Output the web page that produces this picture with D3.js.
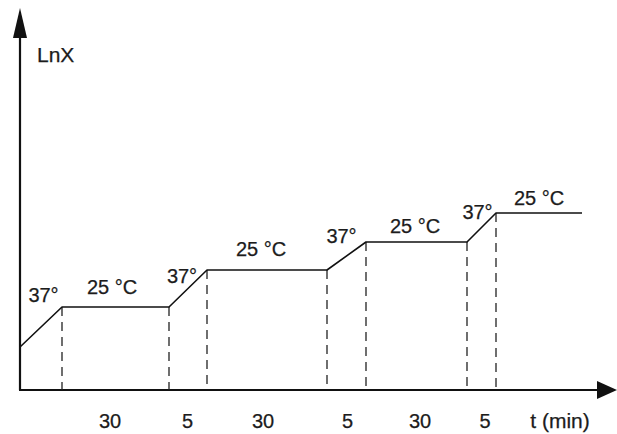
<!DOCTYPE html>
<html>
<head>
<meta charset="utf-8">
<script src="https://cdn.jsdelivr.net/npm/d3@7"></script>
<style>
  html, body { margin: 0; padding: 0; background: #fff; }
  svg { display: block; }
  text { font-family: "Liberation Sans", Arial, Helvetica, sans-serif; font-size: 20px; fill: #1c1c1c; stroke: #1c1c1c; stroke-width: 0.25; }
</style>
</head>
<body>
<svg id="chart" width="617" height="434"></svg>
<script>
// Schematic time (arbitrary units) and lnX values at curve breakpoints
const tPoints   = [0, 4.2, 14.9, 18.7, 30.7, 34.6, 44.7, 47.6, 56.2];
const lnXPoints = [4.3, 8.3, 8.3, 12.0, 12.0, 14.8, 14.8, 17.7, 17.7];

// Temperature annotations (position in data units)
const tempLabels = ["37°", "25 °C", "37°", "25 °C", "37°", "25 °C", "37°", "25 °C"];
const tempLabelT = [2.35, 9.2, 16.2, 24.1, 32.15, 39.5, 45.75, 51.9];
const tempLabelY = [8.8, 9.6, 10.7, 13.4, 14.7, 15.7, 17.1, 18.5];

// Duration labels under the time axis
const durLabels = ["30", "5", "30", "5", "30", "5", "t (min)"];
const durLabelT = [9.0, 16.75, 24.3, 32.75, 40.0, 46.5, 54.0];
const durLabelY = -3.8;

const axisLabel = "LnX";
const axisLabelT = 1.7, axisLabelY = 32.8;

const tMax = 59.7, yMax = 38.2;

const svg = d3.select("#chart");
const x = d3.scaleLinear().domain([0, 60]).range([20, 620]);
const y = d3.scaleLinear().domain([0, 38]).range([390, 10]);

// Axes
svg.append("line")
  .attr("x1", x(0)).attr("y1", y(0))
  .attr("x2", x(0)).attr("y2", y(yMax) + 20)
  .attr("stroke", "#111").attr("stroke-width", 2.2);
svg.append("line")
  .attr("x1", x(0) - 1).attr("y1", y(0))
  .attr("x2", x(tMax) - 12).attr("y2", y(0))
  .attr("stroke", "#111").attr("stroke-width", 2.2);

// Arrow heads
const yTip = y(yMax), xTip = x(tMax);
svg.append("path")
  .attr("d", `M${x(0)},${yTip} L${x(0) - 7},${yTip + 30} L${x(0) + 7},${yTip + 30} Z`)
  .attr("fill", "#111");
svg.append("path")
  .attr("d", `M${xTip},${y(0)} L${xTip - 20},${y(0) - 9} L${xTip - 20},${y(0) + 9} Z`)
  .attr("fill", "#111");

// Dashed vertical guides
const guideIdx = d3.range(1, tPoints.length - 1);
svg.selectAll("line.guide").data(guideIdx).join("line")
  .attr("class", "guide")
  .attr("x1", i => x(tPoints[i])).attr("x2", i => x(tPoints[i]))
  .attr("y1", i => y(lnXPoints[i])).attr("y2", y(0))
  .attr("stroke", "#222").attr("stroke-width", 1.3)
  .attr("stroke-dasharray", "9,6");

// Growth curve
const line = d3.line().x(d => x(d[0])).y(d => y(d[1]));
svg.append("path")
  .datum(tPoints.map((t, i) => [t, lnXPoints[i]]))
  .attr("d", line)
  .attr("fill", "none").attr("stroke", "#111").attr("stroke-width", 1.6)
  .attr("stroke-linejoin", "round");

// Temperature labels
svg.selectAll("text.temp").data(tempLabels).join("text")
  .attr("class", "temp")
  .attr("x", (d, i) => x(tempLabelT[i]))
  .attr("y", (d, i) => y(tempLabelY[i]))
  .attr("text-anchor", "middle")
  .text(d => d);

// Duration labels
svg.selectAll("text.dur").data(durLabels).join("text")
  .attr("class", "dur")
  .attr("x", (d, i) => x(durLabelT[i]))
  .attr("y", y(durLabelY))
  .attr("text-anchor", "middle")
  .style("font-size", (d, i) => i === durLabels.length - 1 ? "21px" : null)
  .text(d => d);

// Y axis label
svg.append("text")
  .attr("x", x(axisLabelT)).attr("y", y(axisLabelY))
  .style("font-size", "21px")
  .text(axisLabel);
</script>
</body>
</html>
